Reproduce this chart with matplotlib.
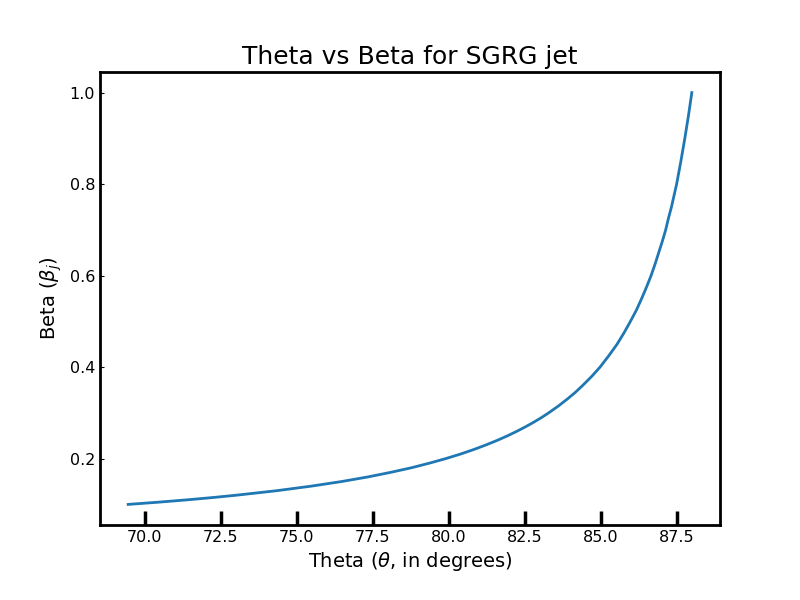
import matplotlib
matplotlib.use('Agg')
import matplotlib.pyplot as plt

# valores
beta = [0.100, 0.105, 0.110, 0.115, 0.120, 0.130, 0.140, 0.150, 0.160, 0.170,
        0.180, 0.190, 0.200, 0.210, 0.220, 0.230, 0.240, 0.250, 0.260, 0.270,
        0.280, 0.290, 0.300, 0.315, 0.330, 0.345, 0.360, 0.380, 0.400, 0.425,
        0.450, 0.475, 0.500, 0.525, 0.550, 0.575, 0.600, 0.625, 0.650, 0.675,
        0.700, 0.725, 0.750, 0.800, 0.850, 0.900, 0.950, 1.000]
theta = [69.45, 70.47, 71.39, 72.23, 72.99, 74.34, 75.48, 76.47, 77.33, 78.08,
         78.76, 79.35, 79.89, 80.38, 80.82, 81.22, 81.59, 81.93, 82.24, 82.53,
         82.80, 83.05, 83.28, 83.60, 83.89, 84.16, 84.40, 84.70, 84.97, 85.26,
         85.53, 85.76, 85.97, 86.17, 86.34, 86.50, 86.65, 86.78, 86.90, 87.02,
         87.13, 87.22, 87.32, 87.49, 87.63, 87.76, 87.88, 87.99]

fig, ax = plt.subplots(figsize=(8, 6), dpi=100)
fig.subplots_adjust(bottom=0.125)
ax.plot(theta, beta, color='#1f77b4', linewidth=2)

ax.set_title('Theta vs Beta for SGRG jet', fontsize=18)
ax.set_xlabel(r'Theta ($\theta$, in degrees)', fontsize=14)
ax.set_ylabel(r'Beta ($\beta_j$)', fontsize=14)

for s in ax.spines.values():
    s.set_linewidth(2)
ax.tick_params(axis='x', direction='in', length=10, width=2.5, labelsize=11.5)
ax.tick_params(axis='y', direction='in', length=3, width=0.8, labelsize=11.5)

plt.savefig('out.png')
